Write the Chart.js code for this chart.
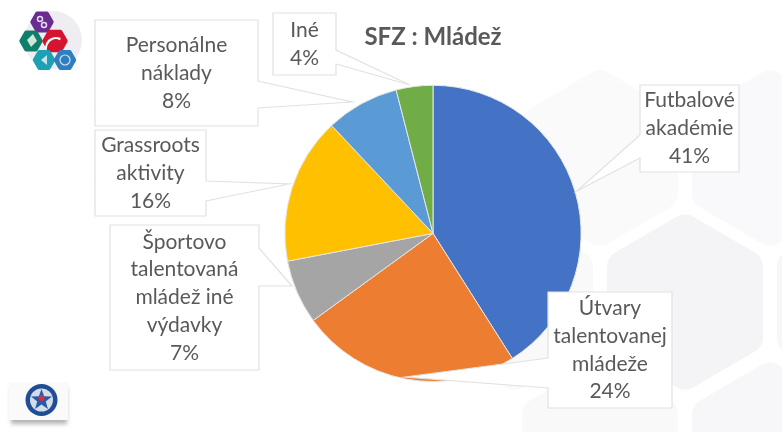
<!DOCTYPE html>
<html lang="sk">
<head>
<meta charset="utf-8">
<title>SFZ : Mládež</title>
<script src="https://cdn.jsdelivr.net/npm/chart.js@4/dist/chart.umd.min.js"></script>
<style>
html,body{margin:0;padding:0;background:#fff;overflow:hidden}
canvas{display:block;filter:blur(0.5px)}
</style>
</head>
<body>
<canvas id="c" width="782" height="432"></canvas>
<script>
const chartTitle = 'SFZ : Mládež';
const categories = ['Futbalové akadémie','Útvary talentovanej mládeže','Športovo talentovaná mládež iné výdavky','Grassroots aktivity','Personálne náklady','Iné'];
const values = [41,24,7,16,8,4];
const sliceColors = ['#4472C4','#ED7D31','#A5A5A5','#FFC000','#5B9BD5','#70AD47'];
const labelLines = [
  ['Futbalové','akadémie'],
  ['Útvary','talentovanej','mládeže'],
  ['Športovo','talentovaná','mládež iné','výdavky'],
  ['Grassroots','aktivity'],
  ['Personálne','náklady'],
  ['Iné']
];

// Callout geometry: box [x0,y0,x1,y1], tip [x,y], side the pointer leaves from and the two attachment coordinates
const callouts = [
  {box:[640,85,739,172], tip:[577,191], side:'left', a:135, b:158},
  {box:[548,292,672,408], tip:[405,377], side:'left', a:358, b:388},
  {box:[110,225,259,370], tip:[292,286], side:'right', a:248, b:286},
  {box:[95,130,206,216], tip:[289,184], side:'right', a:181, b:201},
  {box:[95,20,258,126], tip:[352,102], side:'right', a:81, b:108},
  {box:[273,13,336,75], tip:[410,85], side:'right', a:50, b:64}
];

function hexPath(ctx,cx,cy,r,pointy,round){
  const pts=[];
  for(let i=0;i<6;i++){
    const t=(pointy?-90:0)+60*i;
    pts.push([cx+r*Math.cos(t*Math.PI/180),cy+r*Math.sin(t*Math.PI/180)]);
  }
  ctx.beginPath();
  const m=(p,q)=>[(p[0]+q[0])/2,(p[1]+q[1])/2];
  const s=m(pts[5],pts[0]);
  ctx.moveTo(s[0],s[1]);
  for(let i=0;i<6;i++){
    const p=pts[i],q=pts[(i+1)%6],e=m(p,q);
    ctx.arcTo(p[0],p[1],e[0],e[1],round);
    ctx.lineTo(e[0],e[1]);
  }
  ctx.closePath();
}

const slideDecor = {
  id:'slideDecor',
  beforeDraw(chart){
    const ctx=chart.ctx;
    ctx.save();
    ctx.fillStyle='#fff';
    ctx.fillRect(0,0,782,432);
    // faint honeycomb background
    const bands=[[685,302,'#f4f4f6'],[515,302,'#f9f9fa'],[855,302,'#f7f7f9'],[600,158,'#fafafb'],[770,158,'#f9f9fb'],[600,450,'#f9f9fa'],[770,450,'#f7f7f9']];
    bands.forEach(h=>{
      ctx.fillStyle=h[2];
      hexPath(ctx,h[0],h[1],90,true,16);ctx.fill();
    });
    // top-left logo
    ctx.filter='blur(0.7px)';
    ctx.fillStyle='#eeedf1';
    ctx.beginPath();ctx.arc(53,40,29,0,Math.PI*2);ctx.fill();
    [[42,22,12,'#6A2C91'],[31,41,12,'#0F7F6B'],[55,41,13,'#D5142F'],[44,60,11.5,'#1FA0B2'],[65,60,11.5,'#2F7FBF']].forEach(h=>{
      ctx.fillStyle=h[3];hexPath(ctx,h[0],h[1],h[2],false,2);ctx.fill();
    });
    ctx.strokeStyle='#fff';ctx.lineWidth=1.5;
    ctx.beginPath();ctx.arc(55,47,9,Math.PI,Math.PI*1.7);ctx.stroke();
    ctx.beginPath();ctx.arc(57,49,11,Math.PI,Math.PI*1.6);ctx.stroke();
    ctx.fillStyle='#cfe8d8';
    ctx.beginPath();ctx.moveTo(27,40);ctx.lineTo(33,34);ctx.lineTo(37,41);ctx.lineTo(31,47);ctx.closePath();ctx.fill();
    ctx.strokeStyle='#e6dcee';
    ctx.beginPath();ctx.arc(40,19,2.5,0,7);ctx.stroke();
    ctx.beginPath();ctx.arc(44,25,2.5,0,7);ctx.stroke();
    ctx.fillStyle='#bfe6ec';
    ctx.beginPath();ctx.moveTo(47,55);ctx.lineTo(41,60);ctx.lineTo(47,65);ctx.closePath();ctx.fill();
    ctx.strokeStyle='#cfe4f4';ctx.lineWidth=1.2;
    ctx.beginPath();ctx.arc(65,60,5,0,7);ctx.stroke();
    // bottom-left logo
    ctx.filter='blur(2px)';
    ctx.fillStyle='rgba(130,130,135,0.6)';ctx.fillRect(11,388,56,36);
    ctx.filter='blur(0.7px)';
    ctx.fillStyle='#fafafa';ctx.fillRect(9,382,59,38);
    ctx.fillStyle='#1f4e96';ctx.beginPath();ctx.arc(41.5,400,16,0,7);ctx.fill();
    ctx.fillStyle='#d4dcea';ctx.beginPath();ctx.arc(41.5,400,11.5,0,7);ctx.fill();
    ctx.fillStyle='#2a5aa5';ctx.beginPath();
    for(let i=0;i<10;i++){
      const r=i%2?4.5:11,t=(-90+36*i)*Math.PI/180,x=41.5+r*Math.cos(t),y=400+r*Math.sin(t);
      i?ctx.lineTo(x,y):ctx.moveTo(x,y);
    }
    ctx.closePath();ctx.fill();
    ctx.fillStyle='#c8324a';ctx.beginPath();ctx.arc(41.5,398,3,0,7);ctx.fill();
    ctx.filter='none';
    ctx.restore();
  }
};

const calloutLabels = {
  id:'calloutLabels',
  afterDatasetsDraw(chart){
    const ctx=chart.ctx;
    ctx.save();
    callouts.forEach((c,i)=>{
      const [x0,y0,x1,y1]=c.box;
      ctx.beginPath();
      ctx.moveTo(x0,y0);ctx.lineTo(x1,y0);
      if(c.side==='right'){
        ctx.lineTo(x1,c.a);ctx.lineTo(c.tip[0],c.tip[1]);ctx.lineTo(x1,c.b);ctx.lineTo(x1,y1);ctx.lineTo(x0,y1);
      }else{
        ctx.lineTo(x1,y1);ctx.lineTo(x0,y1);ctx.lineTo(x0,c.b);ctx.lineTo(c.tip[0],c.tip[1]);ctx.lineTo(x0,c.a);
      }
      ctx.closePath();
      ctx.fillStyle='#fff';ctx.fill();
      ctx.strokeStyle='#e2e2e2';ctx.lineWidth=1.2;ctx.stroke();
      const lines=labelLines[i].concat(values[i]+'%');
      const cy=(y0+y1)/2, lh=27.8;
      ctx.fillStyle='#595959';
      ctx.font='21px Lato, "Open Sans", sans-serif';
      ctx.textAlign='center';ctx.textBaseline='middle';
      lines.forEach((t,k)=>{
        ctx.fillText(t,(x0+x1)/2,cy+(k-(lines.length-1)/2)*lh);
      });
    });
    ctx.restore();
  }
};

new Chart(document.getElementById('c'),{
  type:'pie',
  data:{labels:categories,datasets:[{
    data:values,
    backgroundColor:sliceColors,
    borderColor:'#e6e6e6',
    borderWidth:1
  }]},
  options:{
    responsive:false,
    animation:false,
    rotation:0,
    layout:{padding:{top:23,bottom:50,left:284,right:200}},
    plugins:{
      legend:{display:false},
      tooltip:{enabled:false},
      title:{
        display:true,
        text:chartTitle,
        color:'#595959',
        font:{family:'Lato, "Open Sans", sans-serif',size:24,weight:'bold'},
        padding:{top:0,bottom:33}
      }
    }
  },
  plugins:[slideDecor,calloutLabels]
});
</script>
</body>
</html>
